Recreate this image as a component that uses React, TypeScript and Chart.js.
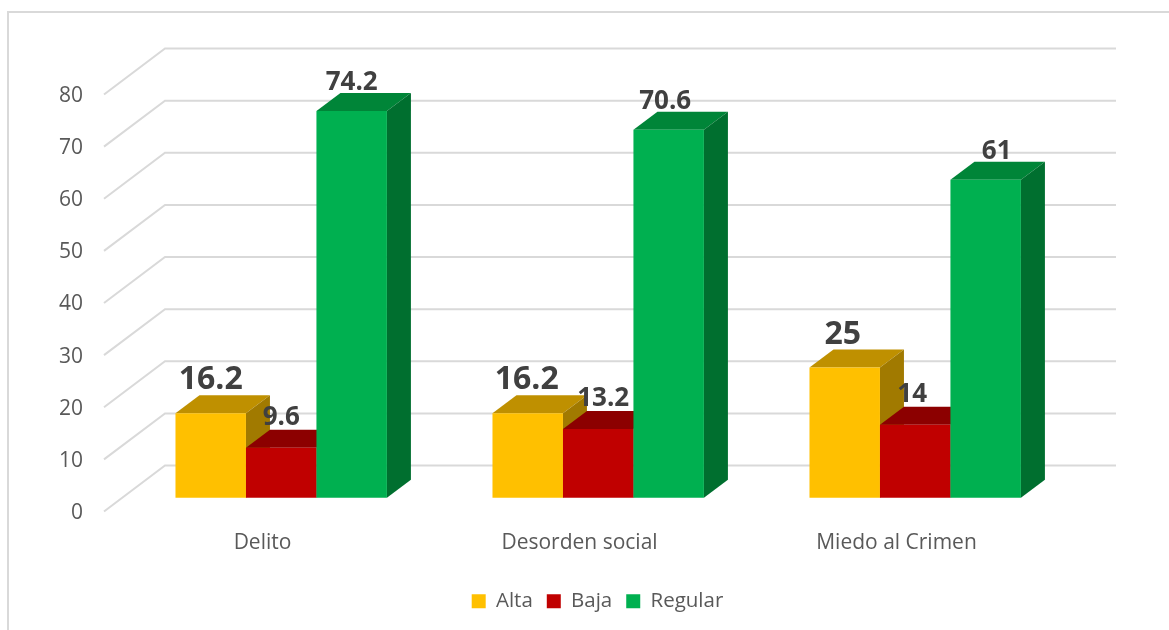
import React, { useEffect, useRef } from "react";
import { Chart, registerables } from "chart.js";

Chart.register(...registerables);

const categories = ["Delito", "Desorden social", "Miedo al Crimen"];
const alta = [16.2, 16.2, 25];
const baja = [9.6, 13.2, 14];
const regular = [74.2, 70.6, 61];

const FONT = '"Open Sans", sans-serif';
const GRID = "#D9D9D9";
const BACK = { x: 61, y: -46 };
const BAR_SHIFT = { x: 18.7, y: -13.7 };
const DEPTH = { x: 24, y: -18 };

const shades = [
  { top: "#BF9000", side: "#A17A00" },
  { top: "#8C0000", side: "#8C0000" },
  { top: "#008538", side: "#006F2F" },
];
const labelSize = [32, 26, 26];
const labelRise = [33, 30, 28.5];
const labelNudge = [
  [0, -1, -2],
  [0, 5, -3],
  [0, -3.5, 11],
];

const plugin3d = {
  id: "plugin3d",
  afterLayout(chart: any) {
    const lg = chart.legend;
    const shift = 597.5 - (lg.left + lg.right) / 2;
    lg.left += shift;
    lg.right += shift;
    const dy = 577 - lg.top;
    lg.top += dy;
    lg.bottom += dy;
  },
  beforeDatasetsDraw(chart: any) {
    const { ctx, scales } = chart;
    const y = scales.y;
    const { left, right } = chart.chartArea;
    ctx.save();
    // Outer frame: left and top edges only
    ctx.strokeStyle = GRID;
    ctx.lineWidth = 2;
    ctx.beginPath();
    ctx.moveTo(8, 630);
    ctx.lineTo(8, 12);
    ctx.lineTo(1169, 12);
    ctx.stroke();
    // Grid on the side wall and back wall
    y.ticks.forEach((t: any) => {
      const py = y.getPixelForValue(t.value);
      ctx.beginPath();
      ctx.moveTo(left, py);
      ctx.lineTo(left + BACK.x, py + BACK.y);
      ctx.lineTo(right + BACK.x, py + BACK.y);
      ctx.stroke();
    });
    ctx.restore();
  },
  beforeDatasetDraw() {
    return false;
  },
  afterDatasetsDraw(chart: any) {
    const { ctx } = chart;
    ctx.save();
    ctx.translate(BAR_SHIFT.x, BAR_SHIFT.y);
    chart.data.datasets.forEach((_: any, i: number) => {
      const meta = chart.getDatasetMeta(i);
      meta.data.forEach((el: any) => {
        const l = el.x - el.width / 2;
        const r = el.x + el.width / 2;
        ctx.fillStyle = shades[i].top;
        ctx.beginPath();
        ctx.moveTo(l, el.y);
        ctx.lineTo(l + DEPTH.x, el.y + DEPTH.y);
        ctx.lineTo(r + DEPTH.x, el.y + DEPTH.y);
        ctx.lineTo(r, el.y);
        ctx.closePath();
        ctx.fill();
        ctx.fillStyle = shades[i].side;
        ctx.beginPath();
        ctx.moveTo(r, el.y);
        ctx.lineTo(r + DEPTH.x, el.y + DEPTH.y);
        ctx.lineTo(r + DEPTH.x, el.base + DEPTH.y);
        ctx.lineTo(r, el.base);
        ctx.closePath();
        ctx.fill();
        el.draw(ctx);
      });
    });
    ctx.textAlign = "center";
    ctx.textBaseline = "middle";
    ctx.fillStyle = "#404040";
    chart.data.datasets.forEach((ds: any, i: number) => {
      const meta = chart.getDatasetMeta(i);
      ctx.font = `bold ${labelSize[i]}px ${FONT}`;
      meta.data.forEach((el: any, j: number) => {
        ctx.fillText(String(ds.data[j]), el.x + labelNudge[i][j], el.y - labelRise[i]);
      });
    });
    ctx.restore();
  },
};

export default function App() {
  const ref = useRef<HTMLCanvasElement>(null);
  useEffect(() => {
    const chart = new Chart(ref.current as HTMLCanvasElement, {
      type: "bar",
      data: {
        labels: categories,
        datasets: [
          { label: "Alta", data: alta, backgroundColor: "#FFC000" },
          { label: "Baja", data: baja, backgroundColor: "#C00000" },
          { label: "Regular", data: regular, backgroundColor: "#00B050" },
        ],
      },
      options: {
        responsive: false,
        animation: false,
        layout: { padding: { top: 94.5, right: 114, left: 0, bottom: 0 } },
        datasets: { bar: { categoryPercentage: 0.667, barPercentage: 1 } },
        plugins: {
          tooltip: { enabled: false },
          title: { display: false },
          legend: {
            position: "bottom",
            labels: {
              boxWidth: 14,
              boxHeight: 14,
              padding: 14,
              color: "#595959",
              font: { family: FONT, size: 20.5 },
            },
          },
        },
        scales: {
          x: {
            grid: { display: false, drawTicks: false },
            border: { display: false },
            ticks: { color: "#595959", font: { family: FONT, size: 21 }, padding: 19, maxRotation: 0 },
            afterFit(s: any) {
              s.height = 74;
            },
          },
          y: {
            min: 0,
            max: 80,
            grid: { display: false, drawTicks: false },
            border: { display: false },
            ticks: { stepSize: 10, color: "#595959", font: { family: FONT, size: 21 }, padding: 21, labelOffset: 1.5 },
            afterFit(s: any) {
              s.width = 104;
            },
          },
        },
      } as any,
      plugins: [plugin3d as any],
    });
    return () => chart.destroy();
  }, []);
  return (
    <div style={{ position: "absolute", left: 0, top: 0, width: 1169, height: 630, background: "#fff" }}>
      <canvas ref={ref} width={1169} height={630} style={{ display: "block" }} />
    </div>
  );
}
